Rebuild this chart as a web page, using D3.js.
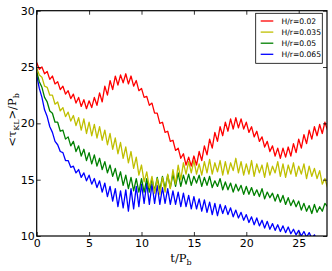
<!DOCTYPE html>
<html>
<head>
	<style>
		body { margin: 0; background: #fff; }
		text { font-family: "DejaVu Sans"; }
	</style>
	<script src="https://cdn.jsdelivr.net/npm/d3@7"></script>
</head>
<body>
	<script>
		// sampled every 0.25 P_b
		var tStep = 0.25;
		var labels = ["H/r=0.02", "H/r=0.035", "H/r=0.05", "H/r=0.065"];
		var colors = ["#ff0000", "#bfbf00", "#008000", "#0000ff"];
		var xTicks = [0, 5, 10, 15, 20, 25];
		var yTicks = [10, 15, 20, 25, 30];

		var red = [25.4, 24.8, 25.0, 24.4, 24.6, 23.9, 24.2, 23.5, 23.7, 23.0, 23.3, 22.6, 22.9, 22.2, 22.6, 21.8,
			22.3, 21.5, 22.1, 21.3, 22.0, 21.4, 22.3, 21.6, 22.7, 21.9, 23.3, 22.5, 23.8, 23.0, 24.2, 23.4,
			24.3, 23.6, 24.4, 23.5, 24.2, 23.3, 23.8, 22.9, 23.1, 22.3, 22.4, 21.6, 21.8, 20.9, 20.9, 20.0,
			20.1, 19.2, 19.3, 18.4, 18.5, 17.6, 17.8, 16.9, 17.3, 16.3, 17.0, 16.2, 17.1, 16.3, 17.5, 16.7,
			18.0, 17.2, 18.6, 17.8, 19.2, 18.4, 19.7, 18.9, 20.1, 19.3, 20.4, 19.5, 20.5, 19.6, 20.4, 19.5,
			20.1, 19.2, 19.7, 18.8, 19.3, 18.4, 18.8, 17.9, 18.4, 17.5, 18.0, 17.1, 17.8, 16.9, 17.8, 17.0,
			17.9, 17.1, 18.2, 17.4, 18.6, 17.8, 19.0, 18.2, 19.4, 18.6, 19.7, 18.9, 19.9, 19.1, 20.1, 19.4];

		var yellow = [24.9, 24.3, 24.1, 23.3, 23.2, 22.5, 22.5, 21.7, 21.9, 21.1, 21.4, 20.6, 21.0, 20.2, 20.7, 19.8,
			20.5, 19.4, 20.4, 19.1, 20.1, 18.9, 19.9, 18.7, 19.7, 18.5, 19.4, 18.1, 19.1, 17.7, 18.7, 17.3,
			18.3, 16.9, 17.9, 16.5, 17.5, 16.0, 17.0, 15.4, 16.3, 14.8, 15.7, 14.3, 15.3, 13.8, 15.1, 13.7,
			15.2, 13.9, 15.5, 14.2, 15.9, 14.6, 16.3, 15.0, 16.5, 15.5, 16.6, 15.6, 16.7, 15.5, 16.4, 15.4,
			16.6, 15.6, 16.8, 15.5, 16.5, 15.7, 16.7, 15.4, 16.6, 15.5, 16.5, 15.8, 16.9, 15.6, 16.6, 15.4,
			16.4, 15.5, 16.7, 15.3, 16.4, 15.6, 16.3, 15.2, 16.5, 15.4, 16.2, 15.6, 16.6, 15.3, 16.4, 15.2,
			16.3, 15.5, 16.5, 15.3, 16.2, 15.5, 16.4, 15.1, 16.2, 15.3, 16.0, 15.1, 15.8, 14.6, 15.1, 14.3];

		var green = [24.6, 23.7, 23.2, 22.3, 21.9, 21.1, 20.9, 20.1, 20.1, 19.3, 19.4, 18.6, 18.8, 18.0, 18.4, 17.5,
			18.0, 17.1, 17.7, 16.7, 17.4, 16.4, 17.2, 16.2, 16.9, 15.9, 16.6, 15.6, 16.3, 15.3, 16.0, 14.9,
			15.7, 14.5, 15.4, 14.2, 15.2, 14.0, 15.1, 13.9, 15.1, 13.9, 15.1, 13.9, 15.1, 14.0, 15.2, 14.1,
			15.3, 14.2, 15.4, 14.3, 15.5, 14.4, 15.6, 14.4, 15.4, 14.6, 15.5, 14.5, 15.3, 14.7, 15.4, 14.4,
			15.2, 14.5, 15.3, 14.3, 14.9, 14.4, 15.1, 14.1, 14.8, 14.1, 14.7, 13.9, 14.6, 14.0, 14.5, 13.7,
			14.4, 13.7, 14.3, 13.6, 14.1, 13.5, 14.2, 13.3, 13.9, 13.4, 13.8, 13.1, 13.7, 13.0, 13.6, 12.8,
			13.4, 12.7, 13.2, 12.6, 13.1, 12.3, 12.9, 12.2, 12.7, 12.0, 12.8, 12.1, 12.6, 12.2, 12.9, 12.6];

		var blue = [24.3, 23.1, 22.3, 21.2, 20.6, 19.7, 19.2, 18.4, 18.1, 17.5, 17.4, 16.7, 16.7, 16.1, 16.2, 15.6,
			15.9, 15.2, 15.6, 14.9, 15.4, 14.6, 15.1, 14.3, 14.9, 13.9, 14.7, 13.5, 14.4, 13.1, 14.2, 12.6,
			14.0, 12.5, 14.1, 12.2, 14.2, 12.4, 14.4, 12.6, 14.6, 12.9, 14.7, 12.8, 14.6, 12.9, 14.5, 12.8,
			14.3, 12.9, 14.2, 12.8, 14.0, 12.8, 13.9, 12.6, 13.8, 12.6, 13.6, 12.4, 13.5, 12.4, 13.3, 12.2,
			13.2, 12.1, 13.0, 11.9, 12.9, 11.8, 12.8, 12.0, 12.7, 11.9, 12.5, 11.7, 12.3, 11.6, 12.1, 11.4,
			11.9, 11.2, 11.7, 11.0, 11.6, 10.9, 11.4, 10.7, 11.3, 10.6, 11.1, 10.5, 11.0, 10.4, 10.9, 10.3,
			10.8, 10.2, 10.6, 10.1, 10.5, 10.0, 10.4, 9.9, 10.3, 9.8, 10.1, 9.6, 9.8, 9.3, 9.5, 9.1];

		var series = [red, yellow, green, blue];

		var W = 332, H = 271;
		var mLeft = 36.7, mRight = 327, mTop = 10.7, mBottom = 236;

		var svg = d3.select("body").append("svg")
			.attr("width", W)
			.attr("height", H);

		var x = d3.scaleLinear().domain([0, 27.7]).range([mLeft, mRight]);
		var y = d3.scaleLinear().domain([10, 30]).range([mBottom, mTop]);

		svg.append("clipPath").attr("id", "clip")
			.append("rect")
			.attr("x", mLeft).attr("y", mTop)
			.attr("width", mRight - mLeft).attr("height", mBottom - mTop);

		var line = d3.line()
			.x(function(d, i) { return x(i * tStep); })
			.y(function(d) { return y(d); });

		var plot = svg.append("g").attr("clip-path", "url(#clip)");
		// draw blue first so red ends up on top
		for (var k = series.length - 1; k >= 0; k--) {
			plot.append("path")
				.datum(series[k])
				.attr("d", line)
				.attr("fill", "none")
				.attr("stroke", colors[k])
				.attr("stroke-width", 1.3)
				.attr("stroke-linejoin", "round");
		}

		// axes, ticks pointing inward on all four sides
		var tickLen = 4;
		svg.append("g").attr("transform", "translate(0," + mBottom + ")")
			.call(d3.axisBottom(x).tickValues(xTicks).tickSizeInner(-tickLen).tickSizeOuter(0).tickPadding(3))
			.call(function(g) { g.select(".domain").remove(); });
		svg.append("g").attr("transform", "translate(0," + mTop + ")")
			.call(d3.axisTop(x).tickValues(xTicks).tickSizeInner(-tickLen).tickSizeOuter(0).tickFormat(""))
			.call(function(g) { g.select(".domain").remove(); });
		svg.append("g").attr("transform", "translate(" + mLeft + ",0)")
			.call(d3.axisLeft(y).tickValues(yTicks).tickSizeInner(-tickLen).tickSizeOuter(0).tickPadding(2))
			.call(function(g) { g.select(".domain").remove(); });
		svg.append("g").attr("transform", "translate(" + mRight + ",0)")
			.call(d3.axisRight(y).tickValues(yTicks).tickSizeInner(-tickLen).tickSizeOuter(0).tickFormat(""))
			.call(function(g) { g.select(".domain").remove(); });

		svg.selectAll(".tick line").attr("stroke", "#000").attr("stroke-width", 0.8);
		svg.selectAll(".tick text")
			.attr("fill", "#000")
			.style("font-family", "DejaVu Sans")
			.style("font-size", "11px");

		svg.append("rect")
			.attr("x", mLeft).attr("y", mTop)
			.attr("width", mRight - mLeft).attr("height", mBottom - mTop)
			.attr("fill", "none")
			.attr("stroke", "#000")
			.attr("stroke-width", 1.2);

		// axis labels
		var xl = svg.append("text")
			.attr("x", 181).attr("y", 262)
			.attr("text-anchor", "middle")
			.style("font-family", "DejaVu Serif")
			.style("font-size", "11.5px");
		xl.append("tspan").text("t/P");
		xl.append("tspan").attr("dy", 2.5).style("font-size", "8px").text("b");

		var yl = svg.append("text")
			.attr("transform", "translate(16,120) rotate(-90)")
			.attr("text-anchor", "middle")
			.style("font-family", "DejaVu Serif")
			.style("font-size", "11.5px");
		yl.append("tspan").text("<τ");
		yl.append("tspan").attr("dy", 2.5).style("font-size", "8px").text("KL");
		yl.append("tspan").attr("dy", -2.5).text(">/P");
		yl.append("tspan").attr("dy", 2.5).style("font-size", "8px").text("b");

		// legend
		var lg = svg.append("g");
		lg.append("rect")
			.attr("x", 255.7).attr("y", 13.3)
			.attr("width", 66.6).attr("height", 50)
			.attr("fill", "#fff")
			.attr("stroke", "#000")
			.attr("stroke-width", 0.8);
		labels.forEach(function(lab, i) {
			var ly = 21 + i * 11.1;
			lg.append("line")
				.attr("x1", 260.7).attr("x2", 273.3)
				.attr("y1", ly).attr("y2", ly)
				.attr("stroke", colors[i])
				.attr("stroke-width", 1.3);
			lg.append("text")
				.attr("x", 281.5).attr("y", ly + 2.8)
				.style("font-size", "7.6px")
				.text(lab);
		});
	</script>
</body>
</html>
